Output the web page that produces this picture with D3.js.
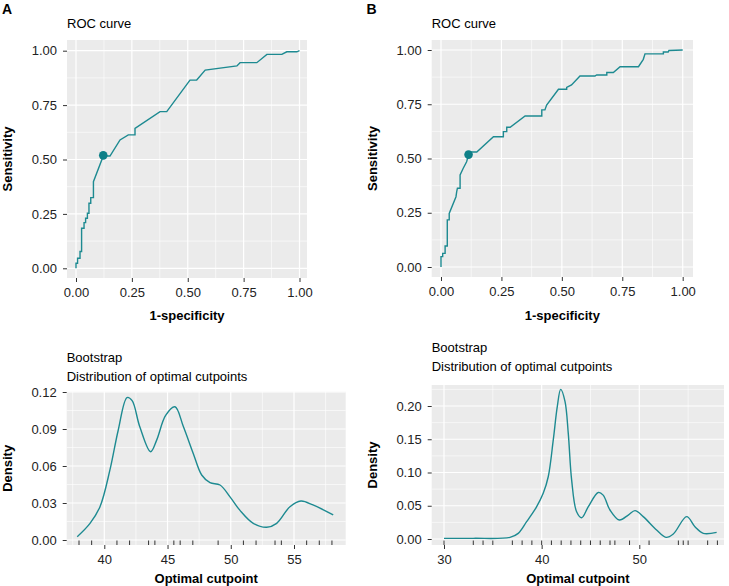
<!DOCTYPE html>
<html>
<head>
<meta charset="utf-8">
<script src="https://cdn.jsdelivr.net/npm/d3@7"></script>
<style>
  body { margin: 0; background: #fff; }
  text { font-family: "Liberation Sans", Arial, Helvetica, sans-serif; }
</style>
</head>
<body>
<script>
// ROC curves (1-specificity, sensitivity)
var rocA_fpr = [0, 0, 0.007, 0.007, 0.018, 0.018, 0.025, 0.025, 0.036, 0.036, 0.043, 0.043, 0.051, 0.051, 0.058, 0.058, 0.066, 0.066, 0.078, 0.078,
                0.122, 0.152, 0.197, 0.234, 0.264, 0.264, 0.376, 0.406, 0.51, 0.54, 0.578, 0.72, 0.734, 0.809, 0.854, 0.921, 0.943, 0.988, 1];
var rocA_tpr = [0, 0.023, 0.023, 0.046, 0.046, 0.077, 0.077, 0.184, 0.184, 0.21, 0.21, 0.23, 0.23, 0.253, 0.253, 0.299, 0.299, 0.325, 0.325, 0.398,
                0.516, 0.516, 0.59, 0.613, 0.613, 0.643, 0.72, 0.72, 0.865, 0.865, 0.911, 0.93, 0.945, 0.945, 0.983, 0.983, 0.995, 0.995, 1];
var cutA = [0.122, 0.519];

var rocB_fpr = [0, 0, 0.007, 0.007, 0.017, 0.017, 0.026, 0.026, 0.034, 0.034, 0.062, 0.065, 0.068, 0.079, 0.079, 0.092, 0.106, 0.114, 0.12, 0.148,
                0.217, 0.258, 0.258, 0.272, 0.272, 0.286, 0.348, 0.417, 0.417, 0.43, 0.437, 0.486, 0.52, 0.52, 0.54, 0.575, 0.637, 0.644, 0.686, 0.686,
                0.713, 0.741, 0.817, 0.837, 0.844, 0.92, 0.92, 0.94, 0.943, 1];
var rocB_tpr = [0, 0.048, 0.048, 0.063, 0.063, 0.097, 0.097, 0.217, 0.217, 0.247, 0.324, 0.347, 0.363, 0.363, 0.424, 0.455, 0.485, 0.516, 0.53, 0.53,
                0.6, 0.6, 0.624, 0.624, 0.644, 0.644, 0.696, 0.696, 0.724, 0.724, 0.746, 0.819, 0.819, 0.828, 0.839, 0.88, 0.88, 0.885, 0.885, 0.896,
                0.896, 0.923, 0.923, 0.957, 0.982, 0.982, 0.991, 0.991, 0.998, 1];
var cutB = [0.114, 0.518];

// bootstrap densities of the optimal cutpoint
var densA_x = [37.86, 38.87, 39.66, 40.45, 41.1, 41.8, 42.2, 42.8, 43.66, 44.14, 44.85, 45.59, 46.25, 47.04, 47.7, 48.36, 49.15, 49.94,
               50.73, 51.78, 52.84, 53.63, 54.68, 55.55, 56.5, 58.1];
var densA_y = [0.0027, 0.0135, 0.027, 0.057, 0.089, 0.1155, 0.113, 0.092, 0.0716, 0.081, 0.101, 0.108, 0.092, 0.070, 0.0527, 0.0465, 0.0446, 0.035,
               0.024, 0.0135, 0.0103, 0.0135, 0.027, 0.0316, 0.0284, 0.0203];
var rugA = [38, 39, 41, 42, 43.5, 44, 45.5, 46, 47, 49, 51, 52, 53.5, 54, 56, 57, 58];

var densB_x = [30, 33, 36.76, 37.6, 38.46, 39.49, 40.17, 40.68, 41.19, 41.6, 41.95, 42.39, 42.73, 43.07, 43.58, 44.1, 44.78, 45.8, 46.3, 47.0,
               47.95, 48.87, 49.56, 50.4, 51.77, 52.73, 53.48, 54.85, 55.7, 56.55, 57.92];
var densB_y = [0.001, 0.001, 0.0025, 0.0085, 0.026, 0.0486, 0.069, 0.094, 0.149, 0.199, 0.225, 0.207, 0.158, 0.089, 0.041, 0.032, 0.0486, 0.070,
               0.066, 0.0436, 0.0286, 0.036, 0.0426, 0.0336, 0.0135, 0.0025, 0.0075, 0.0336, 0.0185, 0.0085, 0.010];
var rugB = [30, 33, 34, 35, 37, 38, 39, 40, 41, 42, 43, 44, 45, 46, 47, 47.5, 49, 51, 54, 54.5, 55, 57, 58];

// tick values
var rocTicks = [0, 0.25, 0.5, 0.75, 1];
var densA_xTicks = [40, 45, 50, 55];
var densA_yTicks = [0, 0.03, 0.06, 0.09, 0.12];
var densB_xTicks = [30, 40, 50];
var densB_yTicks = [0, 0.05, 0.1, 0.15, 0.2];

var teal = "#1d8a91";

var svg = d3.select("body").append("svg")
    .attr("width", 729)
    .attr("height", 586);

function minors(ticks, lo, hi) {
  var step = ticks[1] - ticks[0];
  return d3.range(ticks[0] - step / 2, ticks[ticks.length - 1] + step, step)
    .filter(function(v) { return v > lo && v < hi; });
}

function drawPanel(p) {
  var g = svg.append("g");
  var xs = d3.scaleLinear().domain(p.xd).range(p.xr);
  var ys = d3.scaleLinear().domain(p.yd).range(p.yr);

  g.append("rect")
    .attr("x", p.x0).attr("y", p.y0)
    .attr("width", p.x1 - p.x0).attr("height", p.y1 - p.y0)
    .attr("fill", "#EBEBEB");

  var xlo = xs.invert(p.x0), xhi = xs.invert(p.x1);
  var ylo = ys.invert(p.y1), yhi = ys.invert(p.y0);

  g.selectAll(".xmin").data(minors(p.xTicks, xlo, xhi)).enter().append("line")
    .attr("x1", function(d) { return xs(d); }).attr("x2", function(d) { return xs(d); })
    .attr("y1", p.y0).attr("y2", p.y1)
    .attr("stroke", "#fff").attr("stroke-width", 0.6);
  g.selectAll(".ymin").data(minors(p.yTicks, ylo, yhi)).enter().append("line")
    .attr("y1", function(d) { return ys(d); }).attr("y2", function(d) { return ys(d); })
    .attr("x1", p.x0).attr("x2", p.x1)
    .attr("stroke", "#fff").attr("stroke-width", 0.6);
  g.selectAll(".xmaj").data(p.xTicks).enter().append("line")
    .attr("x1", function(d) { return xs(d); }).attr("x2", function(d) { return xs(d); })
    .attr("y1", p.y0).attr("y2", p.y1)
    .attr("stroke", "#fff").attr("stroke-width", 1.2);
  g.selectAll(".ymaj").data(p.yTicks).enter().append("line")
    .attr("y1", function(d) { return ys(d); }).attr("y2", function(d) { return ys(d); })
    .attr("x1", p.x0).attr("x2", p.x1)
    .attr("stroke", "#fff").attr("stroke-width", 1.2);

  var ax = g.append("g")
    .attr("transform", "translate(0," + p.y1 + ")")
    .call(d3.axisBottom(xs).tickValues(p.xTicks).tickFormat(d3.format(p.xFmt)).tickSize(4).tickPadding(6));
  var ay = g.append("g")
    .attr("transform", "translate(" + p.x0 + ",0)")
    .call(d3.axisLeft(ys).tickValues(p.yTicks).tickFormat(d3.format(p.yFmt)).tickSize(4).tickPadding(6));
  [ax, ay].forEach(function(a) {
    a.select(".domain").remove();
    a.selectAll("line").attr("stroke", "#333");
    a.selectAll("text").attr("font-size", 13).attr("fill", "#222")
      .attr("font-family", "Liberation Sans, Arial, sans-serif");
  });

  g.append("text")
    .attr("x", (p.x0 + p.x1) / 2).attr("y", p.xTitleY)
    .attr("text-anchor", "middle").attr("font-size", 13).attr("font-weight", "bold")
    .text(p.xTitle);
  g.append("text")
    .attr("transform", "translate(" + (p.x0 - 55) + "," + ((p.y0 + p.y1) / 2) + ") rotate(-90)")
    .attr("text-anchor", "middle").attr("font-size", 13).attr("font-weight", "bold")
    .text(p.yTitle);

  p.titles.forEach(function(t, i) {
    g.append("text")
      .attr("x", p.x0).attr("y", p.titleY[i])
      .attr("font-size", 13)
      .text(t);
  });

  return { g: g, xs: xs, ys: ys };
}

function rocPanel(p, fpr, tpr, cut) {
  var pan = drawPanel(p);
  var pts = fpr.map(function(d, i) { return [d, tpr[i]]; });
  var line = d3.line()
    .x(function(d) { return pan.xs(d[0]); })
    .y(function(d) { return pan.ys(d[1]); });
  pan.g.append("path").datum(pts)
    .attr("d", line).attr("fill", "none")
    .attr("stroke", teal).attr("stroke-width", 1.4);
  pan.g.append("circle")
    .attr("cx", pan.xs(cut[0])).attr("cy", pan.ys(cut[1]))
    .attr("r", 4.3).attr("fill", "#0f8088");
}

function densPanel(p, xv, yv, rug) {
  var pan = drawPanel(p);
  var pts = xv.map(function(d, i) { return [d, yv[i]]; });
  var line = d3.line()
    .curve(d3.curveCatmullRom.alpha(0.5))
    .x(function(d) { return pan.xs(d[0]); })
    .y(function(d) { return pan.ys(d[1]); });
  pan.g.append("path").datum(pts)
    .attr("d", line).attr("fill", "none")
    .attr("stroke", teal).attr("stroke-width", 1.4);
  pan.g.selectAll(".rug").data(rug).enter().append("line")
    .attr("x1", function(d) { return pan.xs(d); }).attr("x2", function(d) { return pan.xs(d); })
    .attr("y1", p.y1 - 4.5).attr("y2", p.y1)
    .attr("stroke", "#333").attr("stroke-width", 1);
}

rocPanel({
  x0: 67, x1: 307, y0: 40, y1: 278,
  xd: [0, 1], xr: [76, 299.5], yd: [0, 1], yr: [268.3, 50.7],
  xTicks: rocTicks, yTicks: rocTicks, xFmt: ".2f", yFmt: ".2f",
  xTitle: "1-specificity", yTitle: "Sensitivity", xTitleY: 320,
  titles: ["ROC curve"], titleY: [28]
}, rocA_fpr, rocA_tpr, cutA);

rocPanel({
  x0: 431.7, x1: 693, y0: 40, y1: 277,
  xd: [0, 1], xr: [441, 682.7], yd: [0, 1], yr: [267, 50],
  xTicks: rocTicks, yTicks: rocTicks, xFmt: ".2f", yFmt: ".2f",
  xTitle: "1-specificity", yTitle: "Sensitivity", xTitleY: 320,
  titles: ["ROC curve"], titleY: [28]
}, rocB_fpr, rocB_tpr, cutB);

densPanel({
  x0: 66.7, x1: 345.7, y0: 391.7, y1: 545,
  xd: [40, 55], xr: [104.3, 294], yd: [0, 0.12], yr: [540, 392],
  xTicks: densA_xTicks, yTicks: densA_yTicks, xFmt: "d", yFmt: ".2f",
  xTitle: "Optimal cutpoint", yTitle: "Density", xTitleY: 583,
  titles: ["Bootstrap", "Distribution of optimal cutpoints"], titleY: [362, 381]
}, densA_x, densA_y, rugA);

densPanel({
  x0: 431.7, x1: 724, y0: 385, y1: 545,
  xd: [30, 50], xr: [444, 639.3], yd: [0, 0.2], yr: [539, 406],
  xTicks: densB_xTicks, yTicks: densB_yTicks, xFmt: "d", yFmt: ".2f",
  xTitle: "Optimal cutpoint", yTitle: "Density", xTitleY: 583,
  titles: ["Bootstrap", "Distribution of optimal cutpoints"], titleY: [352, 370.7]
}, densB_x, densB_y, rugB);

svg.append("text").attr("x", 2).attr("y", 13.5)
  .attr("font-size", 14).attr("font-weight", "bold").text("A");
svg.append("text").attr("x", 366.5).attr("y", 13.5)
  .attr("font-size", 14).attr("font-weight", "bold").text("B");
</script>
</body>
</html>
